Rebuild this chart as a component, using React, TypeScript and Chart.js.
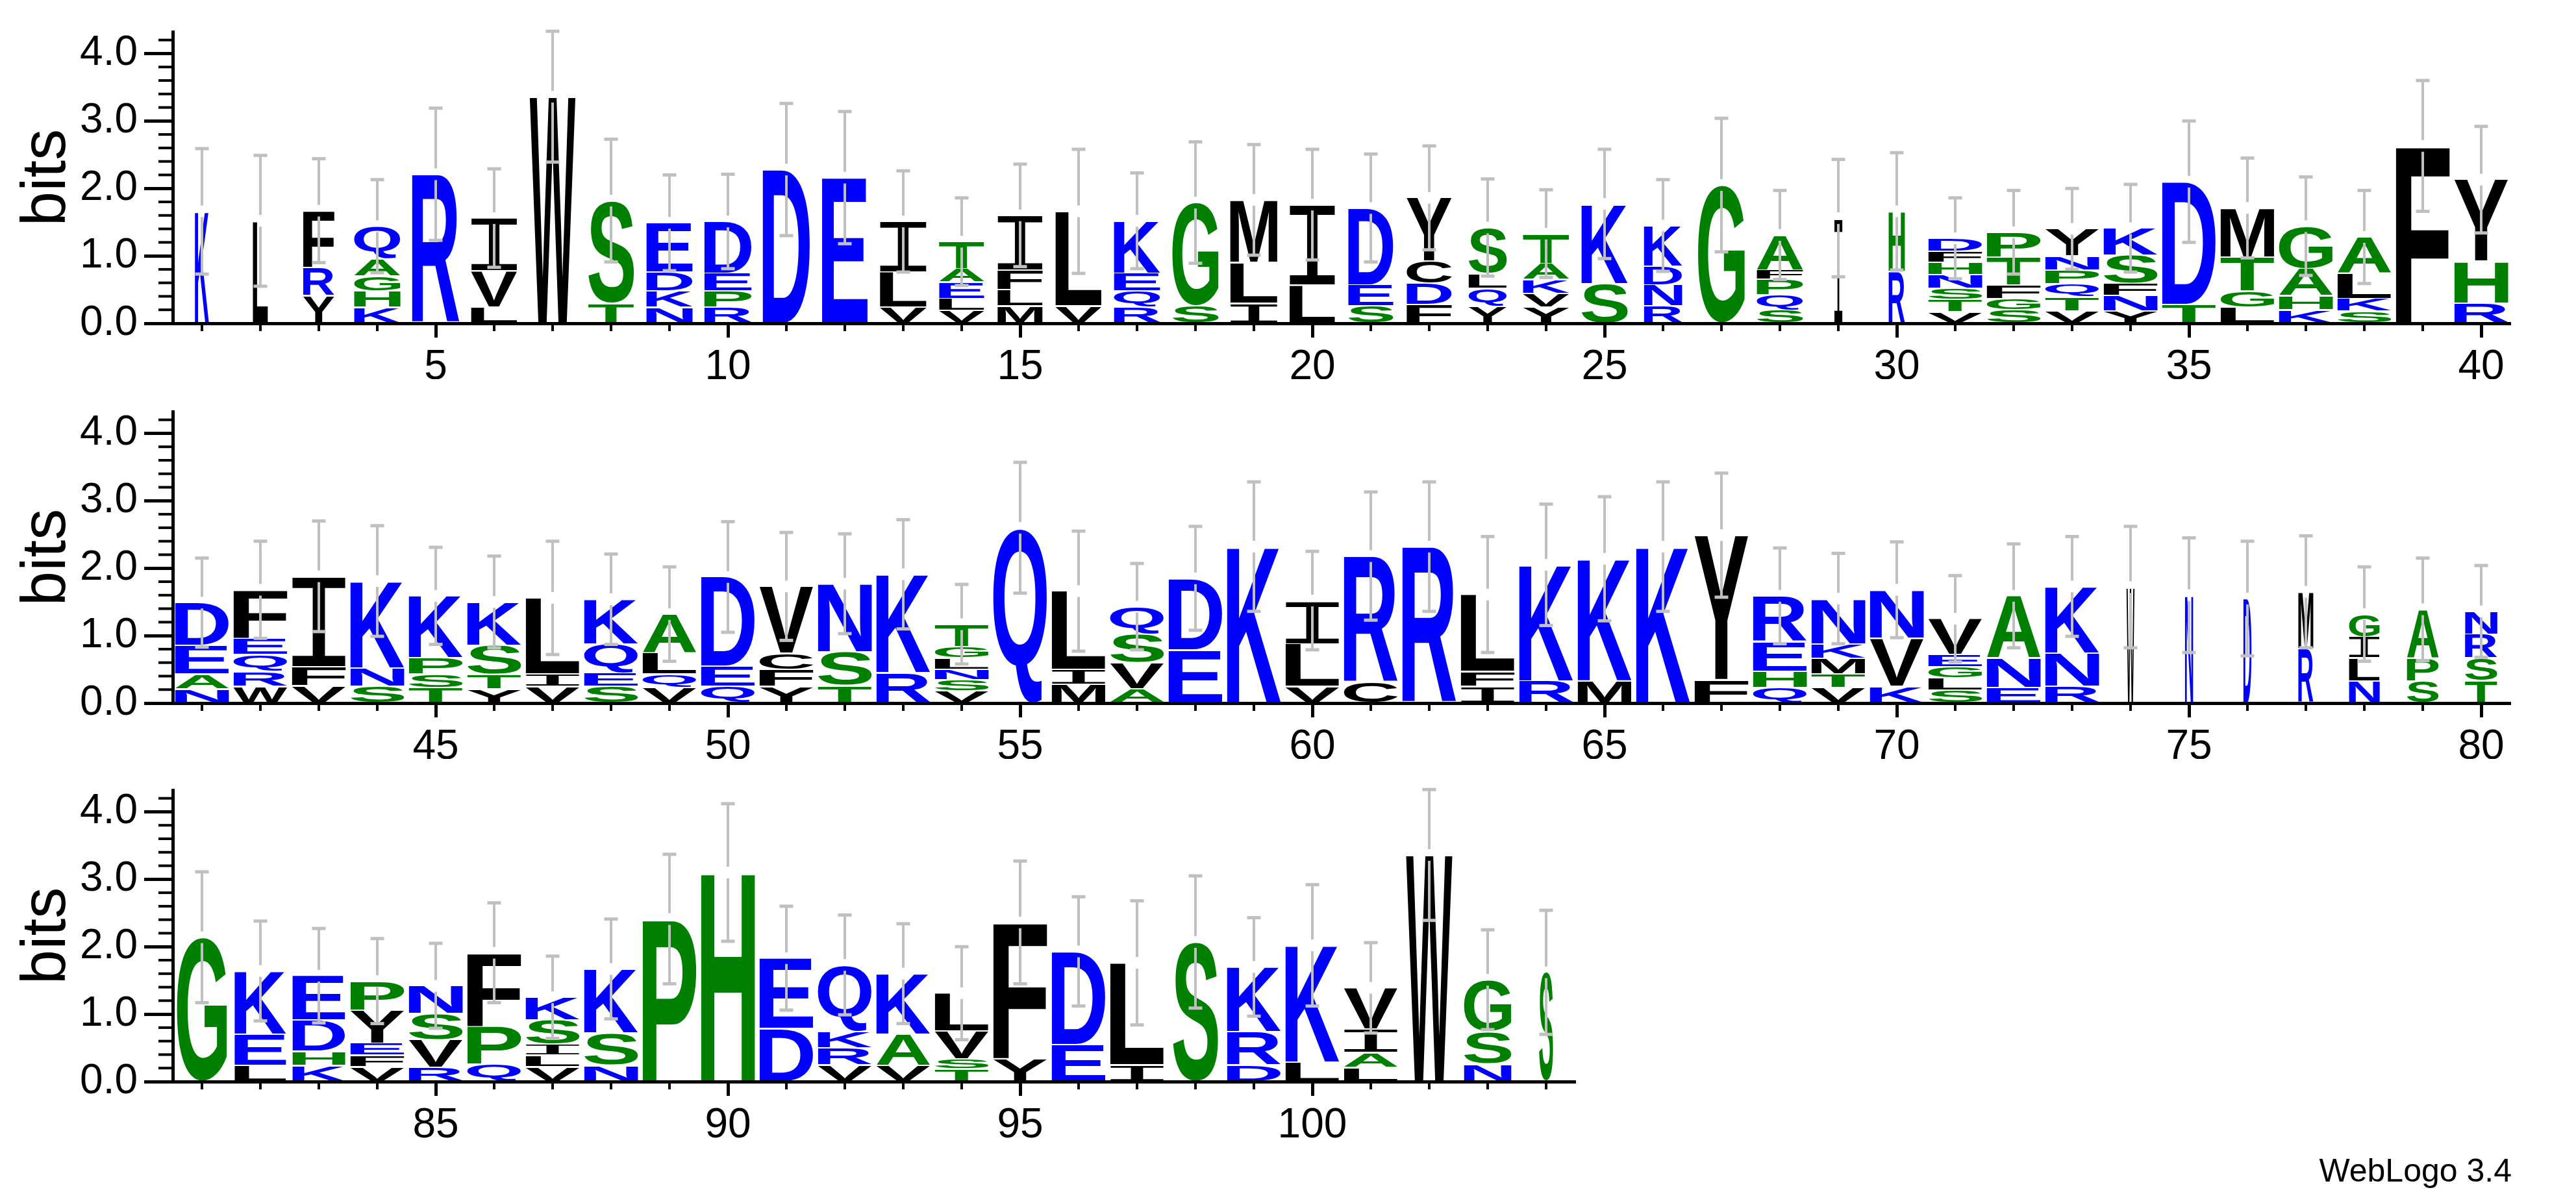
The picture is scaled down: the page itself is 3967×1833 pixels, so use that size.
import React, { useEffect, useRef } from "react";
import { Chart, registerables } from "chart.js";

Chart.register(...registerables);

const FONT = '"Liberation Sans", Arial, Helvetica, sans-serif';
Chart.defaults.font.family = FONT;
Chart.defaults.color = "#000";

// ---------------- data ----------------
const row1Positions = ["1","2","3","4","5","6","7","8","9","10","11","12","13","14","15","16","17","18","19","20","21","22","23","24","25","26","27","28","29","30","31","32","33","34","35","36","37","38","39","40"];
// letters of each stack, bottom -> top
const row1Letters = ["K","L","YRF","KHGAQ","R","LVI","W","TS","NKDE","RPED","D","E","VLI","VLEAT","MLFI","VL","RQEK","SG","ILM","LI","SED","FDCY","YQLS","YVKAT","SK","RNDK","G","SQPFA","I","RH","VTSNHFD","SGFTP","VTQPNY","YNFSK","TD","LGTM","KHAG","SKLA","F","RHY"];
// heights in bits, bottom -> top
const row1Heights = [[1.66],[1.52],[0.41,0.42,0.84],[0.24,0.24,0.22,0.26,0.48],[2.21],[0.24,0.535,0.785],[3.36],[0.30,1.52],[0.24,0.24,0.28,0.73],[0.24,0.24,0.26,0.77],[2.28],[2.16],[0.24,0.52,0.75],[0.19,0.18,0.24,0.20,0.40],[0.26,0.24,0.29,0.81],[0.26,1.40],[0.24,0.24,0.26,0.78],[0.26,1.53],[0.30,0.60,0.93],[0.57,1.19],[0.26,0.31,1.14],[0.28,0.31,0.33,0.94],[0.26,0.26,0.22,0.68],[0.24,0.20,0.21,0.24,0.44],[0.59,1.18],[0.26,0.31,0.28,0.60],[2.05],[0.20,0.22,0.23,0.14,0.52],[1.56],[0.77,0.89],[0.17,0.18,0.17,0.20,0.18,0.17,0.19],[0.20,0.17,0.20,0.41,0.37],[0.18,0.21,0.20,0.20,0.21,0.40],[0.18,0.23,0.18,0.42,0.40],[0.28,1.82],[0.24,0.24,0.50,0.73],[0.20,0.21,0.40,0.63],[0.18,0.19,0.37,0.54],[2.63],[0.30,0.62,1.21]];
const row1Errors = [0.93,0.97,0.77,0.69,0.98,0.73,0.97,0.91,0.71,0.70,0.98,0.98,0.75,0.65,0.76,0.92,0.71,0.90,0.82,0.82,0.80,0.77,0.72,0.65,0.81,0.68,0.99,0.66,0.87,0.87,0.60,0.62,0.60,0.65,0.90,0.74,0.73,0.69,0.97,0.79];
const row1Widths = [0.26,0.28,0.58,0.86,0.88,0.86,0.85,0.85,0.86,0.88,0.88,0.85,0.87,0.84,0.84,0.86,0.86,0.86,0.88,0.85,0.84,0.84,0.71,0.86,0.86,0.71,0.87,0.86,0.15,0.30,1,1,1,1,1,1,1,1,1,1];

const row2Positions = ["41","42","43","44","45","46","47","48","49","50","51","52","53","54","55","56","57","58","59","60","61","62","63","64","65","66","67","68","69","70","71","72","73","74","75","76","77","78","79","80"];
const row2Letters = ["NAED","WRQEF","VFI","SNK","TSPK","YTSK","VIL","SEQK","VQLA","QED","YFCV","TSN","RK","VSNLGT","Q","MIL","AVSQ","ED","K","VLI","CR","R","IFL","RK","MK","K","FY","QHER","VTMKN","KVN","SLGEV","ENA","RNK","W","N","D","RM","NLIG","SPA","TSRN"];
const row2Heights = [[0.21,0.22,0.43,0.63],[0.25,0.22,0.25,0.24,0.72],[0.26,0.28,1.34],[0.25,0.27,1.29],[0.23,0.20,0.24,0.92],[0.21,0.22,0.43,0.64],[0.25,0.18,1.13],[0.25,0.20,0.43,0.66],[0.23,0.20,0.31,0.58],[0.25,0.30,1.32],[0.25,0.25,0.24,0.99],[0.26,0.50,1.01],[0.45,1.46],[0.18,0.17,0.15,0.17,0.17,0.33],[2.60],[0.28,0.22,1.16],[0.21,0.39,0.42,0.41],[0.79,1.06],[2.32],[0.25,0.63,0.64],[0.31,1.87],[2.32],[0.25,0.22,1.14],[0.33,1.72],[0.33,1.81],[2.32],[0.35,2.14],[0.23,0.24,0.44,0.68],[0.23,0.20,0.23,0.22,0.67],[0.25,0.71,0.72],[0.19,0.18,0.17,0.18,0.53],[0.23,0.44,0.92],[0.25,0.49,0.99],[1.72],[1.60],[1.55],[0.81,0.84],[0.33,0.34,0.31,0.34],[0.33,0.34,0.72],[0.33,0.34,0.35,0.34]];
const row2Errors = [0.66,0.72,0.82,0.82,0.72,0.68,0.84,0.67,0.70,0.82,0.80,0.74,0.81,0.59,0.97,0.89,0.64,0.77,0.96,0.73,0.95,0.96,0.86,0.90,0.92,0.96,0.92,0.71,0.67,0.71,0.64,0.77,0.74,0.90,0.85,0.85,0.83,0.70,0.76,0.68];
const row2Widths = [1,1,1,1,1,1,1,1,1,1,1,1,1,1,1,1,1,1,1,1,1,1,1,1,1,1,1,1,1,1,1,1,1,0.15,0.15,0.15,0.28,0.57,0.59,0.60];

const row3Positions = ["81","82","83","84","85","86","87","88","89","90","91","92","93","94","95","96","97","98","99","100","101","102","103","104"];
const row3Letters = ["G","LEK","KHDE","VFEYP","RVSN","QPF","VLISK","NSK","P","H","DE","VRKQ","VAK","TSVL","YF","ED","IL","S","DRK","LK","LAIV","W","NSG","S"];
const row3Heights = [[2.14],[0.24,0.46,0.94],[0.24,0.21,0.46,0.66],[0.22,0.17,0.18,0.49,0.43],[0.21,0.41,0.39,0.41],[0.26,0.56,1.09],[0.22,0.17,0.16,0.36,0.34],[0.24,0.48,0.95],[2.41],[3.10],[0.79,1.04],[0.25,0.25,0.24,0.99],[0.24,0.46,0.90],[0.19,0.15,0.41,0.56],[0.34,2.02],[0.55,1.38],[0.25,1.51],[2.07],[0.25,0.49,0.96],[0.29,1.73],[0.21,0.22,0.35,0.61],[3.36],[0.26,0.48,0.77],[1.62]];
const row3Errors = [0.97,0.74,0.70,0.63,0.63,0.74,0.61,0.74,0.96,1.02,0.77,0.74,0.74,0.69,0.91,0.81,0.92,0.98,0.73,0.90,0.67,0.97,0.74,0.92];
const row3Widths = [0.93,0.96,0.98,1,1,1,1,1,1,1,1,1,1,1,1,1,1,0.84,1,1,1,0.86,0.88,0.26];

const yMajorTicks = [0, 1, 2, 3, 4];
const yMinorTicks = [0.2, 0.4, 0.6, 0.8, 1.2, 1.4, 1.6, 1.8, 2.2, 2.4, 2.6, 2.8, 3.2, 3.4, 3.6, 3.8, 4.2];
const Y_MAX = 4.3219; // log2(20)

// ---------------- drawing helpers ----------------
const BLUE = "#0000ff";
const GREEN = "#008000";
const BLACK = "#000000";
const letterColor = (c: string) =>
  "RKDENQ".includes(c) ? BLUE : "SGHTAP".includes(c) ? GREEN : BLACK;

function drawGlyph(ctx: CanvasRenderingContext2D, ch: string, cx: number, top: number, w: number, h: number, color: string) {
  if (h < 0.5 || w < 0.5) return;
  ctx.save();
  ctx.font = ch === "I" ? '200px "Liberation Mono", "DejaVu Sans Mono", monospace' : `bold 200px ${FONT}`;
  ctx.textAlign = "left";
  ctx.textBaseline = "alphabetic";
  const m = ctx.measureText(ch);
  const gl = m.actualBoundingBoxLeft;
  const gr = m.actualBoundingBoxRight;
  const ga = m.actualBoundingBoxAscent;
  const gd = m.actualBoundingBoxDescent;
  const gw = gl + gr;
  const gh = ga + gd;
  ctx.translate(cx - w / 2, top);
  ctx.scale(w / gw, h / gh);
  ctx.fillStyle = color;
  ctx.fillText(ch, gl, ga);
  ctx.restore();
}

function makeLogoPlugin(labels: string[], letters: string[], heights: number[][], errors: number[], widths: number[]) {
  return {
    id: "logoLetters",
    afterDatasetsDraw(chart: any) {
      const ctx: CanvasRenderingContext2D = chart.ctx;
      chart.data.datasets.forEach((_ds: any, k: number) => {
        const meta = chart.getDatasetMeta(k);
        meta.data.forEach((el: any, i: number) => {
          const ch = letters[i][k];
          const hv = heights[i][k];
          if (!ch || !hv) return;
          const top = Math.min(el.y, el.base);
          const bot = Math.max(el.y, el.base);
          const w = el.width * widths[i];
          drawGlyph(ctx, ch, el.x, top + 1, w, bot - top - 2, letterColor(ch));
        });
      });
      const xs = chart.scales.x;
      const ys = chart.scales.y;
      ctx.save();
      ctx.fillStyle = "#c0c0c0";
      for (let i = 0; i < letters.length; i++) {
        const total = heights[i].reduce((a, b) => a + b, 0);
        const x = xs.getPixelForValue(i);
        const yc = ys.getPixelForValue(total);
        const yt = ys.getPixelForValue(total + errors[i]);
        const yb = ys.getPixelForValue(Math.max(0, total - errors[i]));
        const lw = 4, gap = 9, capW = 21, capH = 5;
        ctx.fillRect(x - lw / 2, yt, lw, Math.max(0, yc - gap - yt));
        ctx.fillRect(x - lw / 2, yc + gap, lw, Math.max(0, yb - yc - gap));
        ctx.fillRect(x - capW / 2, yt - capH / 2, capW, capH);
        ctx.fillRect(x - capW / 2, yb - capH / 2, capW, capH);
      }
      ctx.restore();
    },
    afterDraw(chart: any) {
      const ctx: CanvasRenderingContext2D = chart.ctx;
      const xs = chart.scales.x;
      const ys = chart.scales.y;
      const area = chart.chartArea;
      ctx.save();
      ctx.fillStyle = "#000";
      yMinorTicks.forEach((v) => {
        const y = ys.getPixelForValue(v);
        ctx.fillRect(area.left - 22, y - 2, 22, 4);
      });
      labels.forEach((lab, i) => {
        if (Number(lab) % 5 === 0) return;
        const x = xs.getPixelForValue(i);
        ctx.fillRect(x - 2, area.bottom, 4, 12);
      });
      ctx.restore();
    },
  };
}

function makeConfig(labels: string[], letters: string[], heights: number[][], errors: number[], widths: number[], padRight: number, xAxisHeight: number): any {
  const layers = Math.max(...heights.map((h) => h.length));
  const datasets: any[] = [];
  for (let k = 0; k < layers; k++) {
    datasets.push({
      label: "layer " + k,
      data: heights.map((h) => (h[k] !== undefined ? h[k] : 0)),
      backgroundColor: "rgba(0,0,0,0)",
      borderWidth: 0,
      barPercentage: 1,
      categoryPercentage: 0.92,
      stack: "logo",
    });
  }
  return {
    type: "bar",
    data: { labels, datasets },
    options: {
      responsive: false,
      animation: false,
      devicePixelRatio: 1,
      events: [],
      layout: { padding: { top: 49, right: padRight, left: 0, bottom: 0 } },
      plugins: { legend: { display: false }, tooltip: { enabled: false } },
      scales: {
        x: {
          stacked: true,
          grid: {
            display: true,
            drawOnChartArea: false,
            drawTicks: true,
            offset: false,
            tickLength: 22,
            tickWidth: 5,
            tickColor: (c: any) => (Number(labels[c.index]) % 5 === 0 ? "#000" : "rgba(0,0,0,0)"),
          },
          border: { display: true, color: "#000", width: 5, z: 1 },
          ticks: {
            autoSkip: false,
            maxRotation: 0,
            minRotation: 0,
            padding: 8,
            color: "#000",
            font: { size: 64, family: FONT },
            callback: (_v: any, i: number) => (Number(labels[i]) % 5 === 0 ? labels[i] : ""),
          },
          afterFit: (s: any) => {
            s.height = xAxisHeight;
          },
        },
        y: {
          stacked: true,
          min: 0,
          max: Y_MAX,
          afterBuildTicks: (s: any) => {
            s.ticks = yMajorTicks.map((v) => ({ value: v }));
          },
          grid: {
            display: true,
            drawOnChartArea: false,
            drawTicks: true,
            tickLength: 44,
            tickWidth: 5,
            tickColor: "#000",
          },
          border: { display: true, color: "#000", width: 5, z: 1 },
          ticks: {
            padding: 10,
            color: "#000",
            font: { size: 64, family: FONT },
            callback: (v: any) => Number(v).toFixed(1),
          },
          title: {
            display: true,
            text: "bits",
            color: "#000",
            font: { size: 96, family: FONT },
            padding: { top: 16, bottom: 0 },
          },
          afterFit: (s: any) => {
            s.width = 266;
          },
        },
      },
    },
    plugins: [makeLogoPlugin(labels, letters, heights, errors, widths)],
  };
}

function LogoRow(props: { top: number; height: number; labels: string[]; letters: string[]; heights: number[][]; errors: number[]; widths: number[]; padRight: number }) {
  const ref = useRef<HTMLCanvasElement | null>(null);
  useEffect(() => {
    if (!ref.current) return;
    const chart = new Chart(
      ref.current,
      makeConfig(props.labels, props.letters, props.heights, props.errors, props.widths, props.padRight, props.height - 498)
    );
    return () => chart.destroy();
  }, []);
  return (
    <canvas
      ref={ref}
      width={3967}
      height={props.height}
      style={{ position: "absolute", left: 0, top: props.top, width: 3967, height: props.height, display: "block" }}
    />
  );
}

export default function App() {
  return (
    <div style={{ position: "absolute", left: 0, top: 0, width: 3967, height: 1833, background: "#fff", overflow: "hidden" }}>
      <LogoRow top={0} height={584} labels={row1Positions} letters={row1Letters} heights={row1Heights} errors={row1Errors} widths={row1Widths} padRight={101} />
      <LogoRow top={585} height={584} labels={row2Positions} letters={row2Letters} heights={row2Heights} errors={row2Errors} widths={row2Widths} padRight={101} />
      <LogoRow top={1168} height={665} labels={row3Positions} letters={row3Letters} heights={row3Heights} errors={row3Errors} widths={row3Widths} padRight={1541} />
      <div
        style={{
          position: "absolute",
          right: 99,
          top: 1778,
          fontFamily: FONT,
          fontSize: 50,
          lineHeight: "50px",
          whiteSpace: "nowrap",
          color: "#000",
        }}
      >
        WebLogo 3.4
      </div>
    </div>
  );
}
